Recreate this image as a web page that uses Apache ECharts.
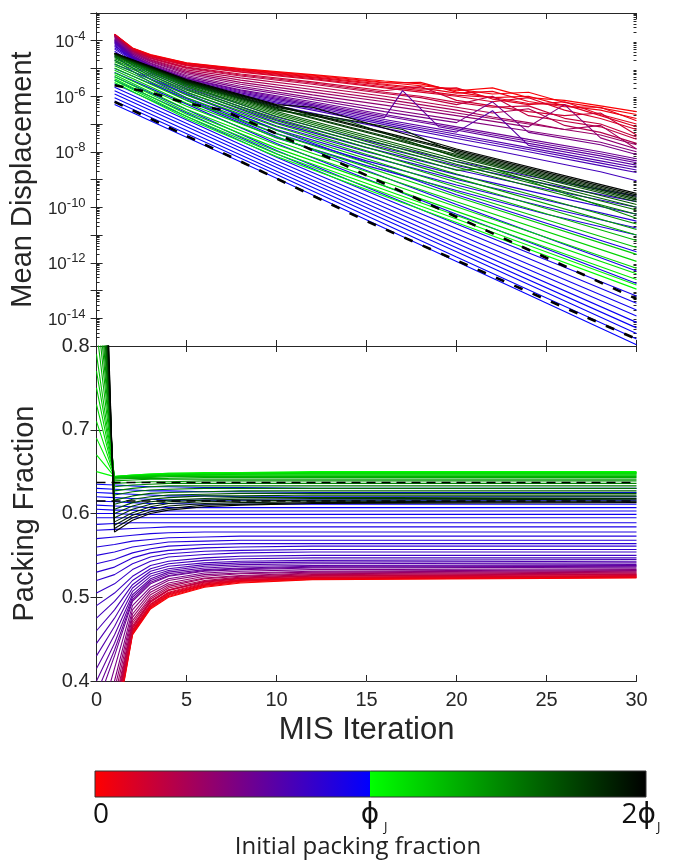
<!DOCTYPE html>
<html><head><meta charset="utf-8">
<script src="https://cdn.jsdelivr.net/npm/echarts@6/dist/echarts.min.js"></script>
<style>html,body{margin:0;padding:0;background:#fff}#c{width:676px;height:865px}</style>
</head><body><div id="c"></div>
<script>
// ---------- data ----------
const phiJ = 0.64;                       // jamming packing fraction (colour scale midpoint)
const xTicks = [0, 5, 10, 15, 20, 25, 30];
const dispTickExps = [-4, -6, -8, -10, -12, -14];
const packTicks = [0.4, 0.5, 0.6, 0.7, 0.8];
const colorbarTicks = ['0', 'ϕ', '2ϕ'];

// initial packing fraction of every run (drives line colour and the packing curve at iteration 0)
const phiInit = [0.01,0.025,0.04,0.055,0.07,0.085,0.10,0.13,0.145,0.16,0.19,0.22,
                 0.25,0.28,0.31,0.34,0.37,0.385,0.40,0.415,0.43,0.445,0.46,0.475,
                 0.49,0.505,0.52,0.53,0.54,0.55,0.56,0.57,
                 0.58,0.587,0.595,0.60,0.605,0.61,0.615,0.62,0.625,0.63,0.635,
                 0.65,0.67,0.69,0.71,0.73,0.75,0.77,0.79,0.82,0.85,0.88,0.91,
                 0.94,0.97,1.00,1.03,1.06,1.09,1.12,1.15,1.18,1.21,1.24,1.27];

// mean displacement vs MIS iteration, one [iteration, value] list per run
const dispCurves = [
 [[1,1.74e-4],[2,5.5e-5],[3,3.16e-5],[5,1.62e-5],[8,1.0e-5],[12,6.0e-6],[16,3.55e-6],[18,2.8e-6],[20,1.58e-6],[22,2.0e-6],[24,8.9e-7],[26,7.1e-7],[28,4.5e-7],[30,2.8e-7]],
 [[1,1.72e-4],[2,5.35e-5],[3,3.08e-5],[5,1.56e-5],[8,9.5e-6],[12,5.7e-6],[16,3.2e-6],[18,2.4e-6],[20,1.8e-6],[22,1.2e-6],[24,1.4e-6],[26,6.0e-7],[28,3.8e-7],[30,2.2e-7]],
 [[1,1.7e-4],[2,5.2e-5],[3,3.0e-5],[5,1.51e-5],[8,9.1e-6],[12,5.4e-6],[16,3.0e-6],[18,3.16e-6],[20,1.41e-6],[22,8.9e-7],[24,1.0e-6],[26,4.5e-7],[28,3.16e-7],[30,1.58e-7]],
 [[1,1.68e-4],[2,5.1e-5],[3,2.9e-5],[5,1.45e-5],[8,8.7e-6],[12,5.0e-6],[16,2.7e-6],[18,2.0e-6],[20,1.3e-6],[22,1.5e-6],[24,6.5e-7],[26,4.2e-7],[28,4.0e-7],[30,1.3e-7]],
 [[1,1.66e-4],[2,5.0e-5],[3,2.8e-5],[5,1.38e-5],[8,8.3e-6],[12,4.7e-6],[16,2.5e-6],[18,1.78e-6],[20,2.0e-6],[22,7.9e-7],[24,5.0e-7],[26,6.3e-7],[28,2.2e-7],[30,1.0e-7]],
 [[1,1.64e-4],[2,4.9e-5],[3,2.7e-5],[5,1.32e-5],[8,7.8e-6],[12,4.3e-6],[16,2.2e-6],[18,1.6e-6],[20,1.1e-6],[22,9.0e-7],[24,5.5e-7],[26,5.0e-7],[28,2.0e-7],[30,8.0e-8]],
 [[1,1.62e-4],[2,4.8e-5],[3,2.6e-5],[5,1.26e-5],[8,7.4e-6],[12,4.0e-6],[16,2.0e-6],[18,1.41e-6],[20,1.0e-6],[22,6.3e-7],[24,8.9e-7],[26,3.16e-7],[28,1.58e-7],[30,6.3e-8]],
 [[1,1.58e-4],[2,4.6e-5],[3,2.45e-5],[5,1.12e-5],[8,6.3e-6],[12,3.3e-6],[16,1.58e-6],[18,2.24e-6],[20,7.1e-7],[22,4.5e-7],[24,2.8e-7],[26,2.0e-7],[28,2.5e-7],[30,4.0e-8]],
 [[1,1.56e-4],[2,4.5e-5],[3,2.38e-5],[5,1.06e-5],[8,5.8e-6],[12,3.0e-6],[16,1.4e-6],[18,1.0e-6],[20,6.0e-7],[22,4.0e-7],[24,4.5e-7],[26,1.6e-7],[28,1.0e-7],[30,3.4e-8]],
 [[1,1.55e-4],[2,4.4e-5],[3,2.3e-5],[5,1.0e-5],[8,5.4e-6],[12,2.7e-6],[16,1.26e-6],[18,8.9e-7],[20,5.0e-7],[22,1.0e-6],[24,2.0e-7],[26,1.26e-7],[28,7.9e-8],[30,2.8e-8]],
 [[1,1.51e-4],[2,4.2e-5],[3,2.1e-5],[5,8.9e-6],[8,4.6e-6],[12,2.2e-6],[16,1.0e-6],[18,6.3e-7],[20,4.0e-7],[22,2.5e-7],[24,3.55e-7],[26,8.9e-8],[28,5.0e-8],[30,2.0e-8]],
 [[1,1.48e-4],[2,4.0e-5],[3,2.0e-5],[5,7.9e-6],[8,3.8e-6],[12,1.74e-6],[16,7.9e-7],[18,5.0e-7],[20,3.16e-7],[22,1.78e-7],[24,1.12e-7],[26,6.3e-8],[28,8.9e-8],[30,1.26e-8]],
 [[1,1.41e-4],[2,3.8e-5],[3,1.86e-5],[5,7.1e-6],[8,3.16e-6],[12,1.41e-6],[16,6.3e-7],[20,2.5e-7],[24,1.0e-7],[28,4.0e-8],[30,1.78e-8]],
 [[1,1.35e-4],[2,3.55e-5],[3,1.74e-5],[5,6.3e-6],[8,2.7e-6],[12,1.12e-6],[16,4.8e-7],[20,2.0e-7],[24,7.9e-8],[26,5.0e-7],[28,3.16e-8],[30,1.26e-8]],
 [[1,1.26e-4],[2,3.3e-5],[3,1.58e-5],[5,5.6e-6],[8,2.3e-6],[12,8.9e-7],[16,3.55e-7],[20,1.41e-7],[24,5.6e-8],[28,2.2e-8],[30,1.0e-8]],
 [[1,1.17e-4],[2,3.16e-5],[3,1.48e-5],[5,5.0e-6],[8,2.0e-6],[12,7.6e-7],[16,2.8e-7],[20,1.12e-7],[22,6.3e-7],[24,5.0e-8],[28,1.78e-8],[30,7.9e-9]],
 [[1,1.1e-4],[2,2.95e-5],[3,1.35e-5],[5,4.5e-6],[8,1.7e-6],[12,6.3e-7],[16,2.2e-7],[20,7.9e-8],[24,2.8e-8],[28,1.0e-8],[30,5.6e-9]],
 [[1,1.05e-4],[2,2.85e-5],[3,1.3e-5],[5,4.25e-6],[8,1.57e-6],[12,5.6e-7],[16,1.95e-7],[20,6.9e-8],[24,2.4e-8],[28,8.5e-9],[30,4.7e-9]],
 [[1,1.0e-4],[2,2.75e-5],[3,1.26e-5],[5,4.0e-6],[8,1.45e-6],[12,5.0e-7],[16,1.7e-7],[17,1.6e-6],[19,8.0e-8],[24,2.0e-8],[28,7.1e-9],[30,4.0e-9]],
 [[1,9.4e-5],[2,2.6e-5],[3,1.19e-5],[5,3.75e-6],[8,1.32e-6],[12,4.5e-7],[16,1.45e-7],[20,5.1e-8],[22,3.0e-7],[24,1.7e-8],[28,5.8e-9],[30,3.3e-9]],
 [[1,8.9e-5],[2,2.5e-5],[3,1.12e-5],[5,3.5e-6],[8,1.2e-6],[12,4.0e-7],[16,1.26e-7],[20,4.3e-8],[24,1.41e-8],[28,4.7e-9],[30,2.7e-9]],
 [[1,8.4e-5],[2,2.35e-5],[3,1.06e-5],[5,3.25e-6],[8,1.1e-6],[12,3.55e-7],[16,1.1e-7],[20,3.6e-8],[24,1.2e-8],[28,3.9e-9],[30,2.2e-9]],
 [[1,7.9e-5],[2,2.2e-5],[3,1.0e-5],[5,3.0e-6],[8,1.0e-6],[12,3.16e-7],[16,9.5e-8],[20,3.0e-8],[24,1.0e-8],[28,3.16e-9],[30,1.78e-9]],
 [[1,7.1e-5],[2,1.9e-5],[3,9.4e-6],[5,2.7e-6],[8,8.4e-7],[12,2.5e-7],[16,7.1e-8],[20,2.1e-8],[24,6.3e-9],[28,1.9e-9],[30,9.0e-10]],
 [[1,6.3e-5],[3,8.9e-6],[5,2.51e-6],[10,1.78e-7],[15,2.51e-8],[20,4.47e-9],[25,1.0e-9],[30,2.51e-10]],
 [[1,5.6e-5],[3,7.9e-6],[5,2.1e-6],[10,1.41e-7],[15,1.9e-8],[20,3.2e-9],[25,6.8e-10],[30,1.6e-10]],
 [[1,5.0e-5],[3,7.1e-6],[5,1.78e-6],[10,1.12e-7],[15,1.41e-8],[20,2.24e-9],[25,4.47e-10],[30,1.0e-10]],
 [[1,4.2e-5],[3,6.0e-6],[5,1.41e-6],[10,8.5e-8],[15,1.0e-8],[20,1.5e-9],[25,2.8e-10],[30,5.6e-11]],
 [[1,3.55e-5],[3,5.0e-6],[5,1.12e-6],[10,6.3e-8],[15,7.1e-9],[20,1.0e-9],[25,1.78e-10],[30,3.16e-11]],
 [[1,2.7e-5],[3,4.0e-6],[5,8.9e-7],[10,4.5e-8],[15,4.7e-9],[20,6.3e-10],[25,1.0e-10],[30,1.8e-11]],
 [[1,2.0e-5],[3,3.16e-6],[5,7.1e-7],[10,3.16e-8],[15,3.16e-9],[20,4.0e-10],[25,5.6e-11],[30,1.0e-11]],
 [[1,1.41e-5],[10,6.0e-8],[20,2.8e-10],[30,2.5e-12]],
 [[1,1.0e-5],[10,3.55e-8],[20,1.26e-10],[30,5.0e-13]],
 [[1,7.1e-6],[10,2.0e-8],[20,5.6e-11],[30,1.78e-13]],
 [[1,5.0e-6],[10,1.12e-8],[20,2.5e-11],[30,6.3e-14]],
 [[1,3.8e-6],[10,8.5e-9],[20,1.7e-11],[30,3.5e-14]],
 [[1,2.82e-6],[10,6.3e-9],[20,1.12e-11],[30,2.0e-14]],
 [[1,2.1e-6],[10,4.7e-9],[20,7.5e-12],[30,1.2e-14]],
 [[1,1.58e-6],[10,3.55e-9],[20,5.0e-12],[30,7.1e-15]],
 [[1,1.2e-6],[10,2.7e-9],[20,3.5e-12],[30,4.5e-15]],
 [[1,8.9e-7],[10,2.0e-9],[20,2.5e-12],[30,2.8e-15]],
 [[1,6.7e-7],[10,1.5e-9],[20,1.6e-12],[30,1.8e-15]],
 [[1,5.0e-7],[10,1.12e-9],[20,1.12e-12],[30,1.12e-15]],
 [[1,3.16e-6],[5,1.58e-7],[10,6.8e-9],[20,2.8e-11],[30,1.12e-13]],
 [[1,3.72e-6],[5,1.86e-7],[10,8.3e-9],[20,3.8e-11],[30,1.58e-13]],
 [[1,4.27e-6],[5,2.24e-7],[10,1.05e-8],[20,5.0e-11],[30,2.5e-13]],
 [[1,5.0e-6],[5,2.75e-7],[10,1.35e-8],[20,7.1e-11],[30,4.0e-13]],
 [[1,5.9e-6],[5,3.39e-7],[10,1.78e-8],[20,1.05e-10],[30,6.3e-13]],
 [[1,7.1e-6],[5,4.37e-7],[10,2.4e-8],[20,1.58e-10],[30,1.12e-12]],
 [[1,8.7e-6],[5,5.6e-7],[10,3.3e-8],[20,2.4e-10],[30,2.0e-12]],
 [[1,1.05e-5],[5,7.1e-7],[10,4.47e-8],[20,3.55e-10],[30,3.55e-12]],
 [[1,1.26e-5],[5,8.9e-7],[10,6.0e-8],[20,5.25e-10],[30,6.3e-12]],
 [[1,1.48e-5],[5,1.12e-6],[10,7.9e-8],[20,7.9e-10],[30,1.0e-11]],
 [[1,1.74e-5],[5,1.38e-6],[10,1.05e-7],[20,1.12e-9],[30,1.58e-11]],
 [[1,2.0e-5],[5,1.66e-6],[10,1.32e-7],[20,1.58e-9],[30,2.5e-11]],
 [[1,2.24e-5],[5,1.91e-6],[10,1.58e-7],[20,2.14e-9],[22,2.5e-9],[30,4.0e-11]],
 [[1,2.51e-5],[5,2.19e-6],[10,1.91e-7],[20,2.82e-9],[30,5.6e-11]],
 [[1,2.69e-5],[5,2.4e-6],[10,2.19e-7],[20,3.55e-9],[30,7.9e-11]],
 [[1,2.88e-5],[5,2.63e-6],[10,2.51e-7],[20,4.37e-9],[30,1.0e-10]],
 [[1,3.02e-5],[5,2.82e-6],[10,2.82e-7],[20,5.25e-9],[30,1.26e-10]],
 [[1,3.16e-5],[5,3.02e-6],[10,3.16e-7],[14,1.26e-7],[20,6.3e-9],[30,1.58e-10]],
 [[1,3.24e-5],[5,3.16e-6],[10,3.47e-7],[20,7.1e-9],[30,1.78e-10]],
 [[1,3.31e-5],[5,3.31e-6],[10,3.72e-7],[20,7.9e-9],[30,2.0e-10]],
 [[1,3.39e-5],[5,3.47e-6],[10,3.98e-7],[17,6.3e-8],[20,8.9e-9],[30,2.24e-10]],
 [[1,3.47e-5],[5,3.63e-6],[10,4.37e-7],[20,1.0e-8],[30,2.5e-10]],
 [[1,3.55e-5],[5,3.8e-6],[10,4.7e-7],[20,1.12e-8],[30,2.8e-10]],
 [[1,3.6e-5],[5,4.0e-6],[10,5.0e-7],[12,4.0e-7],[20,1.26e-8],[30,3.16e-10]]
];

// packing fraction vs MIS iteration, sampled at packX, one row per run
const packX = [0, 1, 2, 3, 4, 6, 8, 12, 30];
const packCurves = [
 [.01,.335,.455,.486,.500,.512,.517,.521,.523],
 [.025,.337,.456,.487,.501,.513,.518,.5215,.5235],
 [.04,.34,.457,.488,.502,.514,.519,.522,.524],
 [.055,.342,.458,.489,.503,.5145,.5195,.5225,.5245],
 [.07,.345,.459,.49,.504,.515,.52,.523,.525],
 [.085,.347,.46,.491,.505,.516,.5205,.5235,.5255],
 [.10,.35,.461,.492,.506,.517,.521,.524,.526],
 [.13,.355,.463,.494,.508,.518,.522,.525,.527],
 [.145,.357,.464,.495,.5085,.5185,.5225,.5255,.5275],
 [.16,.36,.466,.496,.509,.519,.523,.526,.528],
 [.19,.365,.469,.498,.511,.52,.524,.527,.529],
 [.22,.37,.472,.5,.513,.522,.525,.528,.53],
 [.25,.38,.476,.503,.515,.523,.526,.529,.531],
 [.28,.39,.48,.506,.517,.525,.528,.53,.532],
 [.31,.40,.485,.509,.52,.527,.529,.531,.533],
 [.34,.415,.49,.512,.522,.529,.531,.533,.534],
 [.37,.43,.495,.516,.525,.531,.533,.535,.536],
 [.385,.437,.497,.518,.526,.532,.534,.536,.537],
 [.40,.445,.50,.52,.528,.533,.535,.537,.538],
 [.415,.455,.503,.522,.53,.535,.537,.538,.539],
 [.43,.465,.507,.525,.532,.537,.539,.54,.541],
 [.445,.475,.511,.528,.534,.539,.541,.542,.543],
 [.46,.485,.515,.531,.537,.541,.543,.544,.545],
 [.475,.495,.52,.534,.54,.544,.546,.547,.547],
 [.49,.505,.525,.538,.543,.547,.549,.55,.55],
 [.505,.516,.533,.543,.548,.551,.553,.554,.554],
 [.52,.527,.54,.548,.552,.555,.556,.557,.557],
 [.53,.536,.547,.553,.556,.559,.56,.561,.561],
 [.54,.545,.553,.558,.561,.563,.564,.564,.564],
 [.55,.554,.56,.563,.566,.567,.568,.568,.568],
 [.56,.563,.567,.569,.571,.572,.573,.573,.573],
 [.57,.572,.574,.576,.577,.578,.578,.578,.578],
 [.58,.581,.582,.583,.584,.584,.584,.584,.584],
 [.587,.588,.589,.589,.589,.589,.589,.589,.589],
 [.595,.595,.595,.595,.595,.595,.595,.595,.595],
 [.60,.60,.599,.599,.599,.599,.599,.599,.599],
 [.605,.604,.604,.603,.603,.603,.603,.603,.603],
 [.61,.609,.608,.607,.607,.607,.607,.607,.607],
 [.615,.614,.613,.612,.612,.611,.611,.611,.611],
 [.62,.619,.618,.617,.616,.616,.616,.616,.616],
 [.625,.624,.623,.622,.621,.621,.62,.62,.62],
 [.63,.629,.628,.627,.627,.626,.626,.625,.625],
 [.635,.634,.633,.632,.632,.631,.631,.63,.63],
 [.65,.644,.646,.647,.648,.649,.649,.65,.65],
 [.67,.644,.646,.647,.648,.648,.649,.649,.649],
 [.69,.644,.645,.646,.647,.648,.648,.649,.649],
 [.71,.644,.645,.646,.647,.647,.648,.648,.648],
 [.73,.644,.645,.646,.646,.647,.647,.648,.648],
 [.75,.643,.644,.645,.646,.646,.647,.647,.647],
 [.77,.643,.644,.645,.645,.646,.646,.646,.646],
 [.79,.643,.644,.644,.645,.645,.645,.645,.645],
 [.82,.642,.643,.643,.644,.644,.644,.644,.644],
 [.85,.641,.642,.642,.642,.643,.643,.643,.643],
 [.88,.639,.64,.641,.641,.641,.641,.641,.641],
 [.91,.636,.637,.638,.638,.639,.639,.639,.639],
 [.94,.632,.634,.635,.636,.636,.636,.636,.636],
 [.97,.627,.63,.632,.633,.633,.633,.633,.633],
 [1.00,.622,.626,.628,.629,.63,.63,.63,.63],
 [1.03,.616,.621,.624,.625,.626,.627,.627,.627],
 [1.06,.611,.617,.62,.622,.623,.624,.624,.624],
 [1.09,.605,.613,.617,.619,.621,.621,.622,.622],
 [1.12,.60,.609,.614,.616,.618,.619,.619,.62],
 [1.15,.595,.605,.611,.614,.616,.617,.618,.618],
 [1.18,.59,.601,.608,.612,.614,.615,.616,.617],
 [1.21,.586,.598,.605,.609,.612,.613,.614,.615],
 [1.24,.582,.595,.602,.606,.61,.611,.613,.614],
 [1.27,.578,.592,.60,.604,.608,.61,.612,.613]
];

// dashed reference runs
const dashDispUpper = [[1,2.5e-6],[3,1.35e-6],[5,5.6e-7],[7,3.16e-7],[10,4.47e-8],[20,4.47e-11],[30,5.0e-14]];
const dashDispLower = [[1,6.3e-7],[15,3.16e-11],[30,1.78e-15]];
const dashPackLevels = [0.637, 0.615];

// ---------- chart ----------
const FONT = '"Liberation Sans", Arial, Helvetica, sans-serif';
const AX = '#262626';

function runColor(p) {
  const t = p / phiJ;
  if (t < 1) return `rgb(${Math.round(255 * (1 - t))},0,${Math.round(255 * t)})`;
  const u = Math.min(1, t - 1);
  return `rgb(0,${Math.round(255 * (1 - u))},0)`;
}

const G0 = {left: 96.5, top: 13, width: 540, height: 333};
const G1 = {left: 96.5, top: 346, width: 540, height: 335};

const tickStyle = {show: true, inside: true, length: 6, lineStyle: {color: AX, width: 1}};
const lineStyle = {show: true, lineStyle: {color: AX, width: 1}};

const xCommon = {type: 'value', min: 0, max: 30, interval: 5, splitLine: {show: false}, axisLine: lineStyle, axisTick: tickStyle};

const minorVals = [];
for (let n = -15; n < -3; n++) for (let k = 2; k <= 9; k++) minorVals.push(n + Math.log10(k));

const series = [];
phiInit.forEach((p, i) => {
  const c = runColor(p);
  series.push({type: 'line', xAxisIndex: 0, yAxisIndex: 0, data: dispCurves[i], symbol: 'none', silent: true,
    lineStyle: {color: c, width: 1.1}, clip: true, z: 2});
  series.push({type: 'line', xAxisIndex: 2, yAxisIndex: 4, data: packX.map((x, j) => [x, packCurves[i][j]]), symbol: 'none', silent: true,
    lineStyle: {color: c, width: 1.1}, clip: true, z: 2});
});
[dashDispUpper, dashDispLower].forEach(d => series.push({type: 'line', xAxisIndex: 0, yAxisIndex: 0, data: d, symbol: 'none', silent: true,
  lineStyle: {color: '#000', width: 2.6, type: [9, 11]}, clip: true, z: 3}));
dashPackLevels.forEach(v => series.push({type: 'line', xAxisIndex: 2, yAxisIndex: 4, data: [[0, v], [30, v]], symbol: 'none', silent: true,
  lineStyle: {color: '#000', width: 1.6, type: [9, 6]}, clip: true, z: 3}));

const cbStops = [
  {offset: 0, color: runColor(0)}, {offset: 0.5, color: runColor(phiJ * 0.99999)},
  {offset: 0.5, color: runColor(phiJ * 1.00001)}, {offset: 1, color: runColor(2 * phiJ)}
];

const option = {
  animation: false,
  backgroundColor: '#fff',
  grid: [G0, G1],
  xAxis: [
    Object.assign({gridIndex: 0, position: 'bottom', axisLabel: {show: false}}, xCommon),
    Object.assign({gridIndex: 0, position: 'top', axisLabel: {show: false}}, xCommon),
    Object.assign({gridIndex: 1, position: 'bottom', name: 'MIS Iteration', nameLocation: 'middle', nameGap: 34,
      nameTextStyle: {fontFamily: FONT, fontSize: 31, color: AX},
      axisLabel: {show: true, margin: 9, fontFamily: FONT, fontSize: 20, color: AX,
        customValues: xTicks, formatter: v => String(v)}}, xCommon),
    Object.assign({gridIndex: 1, position: 'top', axisLabel: {show: false}}, xCommon)
  ],
  yAxis: [
    {type: 'log', logBase: 10, gridIndex: 0, position: 'left', min: 1e-15, max: 1e-3, interval: 1,
      name: 'Mean Displacement', nameLocation: 'middle', nameGap: 57,
      nameTextStyle: {fontFamily: FONT, fontSize: 29, color: AX},
      splitLine: {show: false}, axisLine: lineStyle, axisTick: tickStyle,
      axisLabel: {margin: 11, formatter: v => {
          const e = Math.round(Math.log10(v));
          return dispTickExps.includes(e) ? '{b|10}{s|' + e + '}' : '';
        },
        rich: {b: {fontFamily: FONT, fontSize: 17, color: AX, lineHeight: 21, verticalAlign: 'bottom'},
               s: {fontFamily: FONT, fontSize: 13, color: AX, lineHeight: 21, verticalAlign: 'top'}}}},
    {type: 'log', logBase: 10, gridIndex: 0, position: 'right', min: 1e-15, max: 1e-3, interval: 1,
      splitLine: {show: false}, axisLine: lineStyle, axisTick: tickStyle, axisLabel: {show: false}},
    {type: 'value', gridIndex: 0, position: 'left', min: -15, max: -3, splitLine: {show: false}, axisLine: {show: false},
      axisLabel: {show: false}, axisTick: {show: true, inside: true, length: 3, customValues: minorVals, lineStyle: {color: AX}}},
    {type: 'value', gridIndex: 0, position: 'right', min: -15, max: -3, splitLine: {show: false}, axisLine: {show: false},
      axisLabel: {show: false}, axisTick: {show: true, inside: true, length: 3, customValues: minorVals, lineStyle: {color: AX}}},
    {type: 'value', gridIndex: 1, position: 'left', min: 0.4, max: 0.8, interval: 0.1,
      name: 'Packing Fraction', nameLocation: 'middle', nameGap: 57,
      nameTextStyle: {fontFamily: FONT, fontSize: 29, color: AX},
      splitLine: {show: false}, axisLine: lineStyle, axisTick: tickStyle,
      axisLabel: {margin: 7, fontFamily: FONT, fontSize: 20, color: AX, customValues: packTicks, formatter: v => v.toFixed(1)}},
    {type: 'value', gridIndex: 1, position: 'right', min: 0.4, max: 0.8, interval: 0.1,
      splitLine: {show: false}, axisLine: lineStyle, axisTick: tickStyle, axisLabel: {show: false}}
  ],
  series: series,
  graphic: [
    {type: 'rect', shape: {x: 95, y: 771, width: 551, height: 26}, silent: true,
      style: {fill: new echarts.graphic.LinearGradient(0, 0, 1, 0, cbStops), stroke: '#333', lineWidth: 1}},
    {type: 'text', x: 101, y: 815, silent: true,
      style: {text: colorbarTicks[0], font: '28px "Open Sans", sans-serif', fill: '#111', align: 'center', verticalAlign: 'middle'}},
    {type: 'text', x: 370, y: 815, silent: true,
      style: {text: colorbarTicks[1], font: '28px "Open Sans", "DejaVu Sans", sans-serif', fill: '#111', align: 'center', verticalAlign: 'middle'}},
    {type: 'text', x: 384, y: 827, silent: true,
      style: {text: 'J', font: '13px "Open Sans", sans-serif', fill: '#111', align: 'left', verticalAlign: 'middle'}},
    {type: 'text', x: 656, y: 815, silent: true,
      style: {text: colorbarTicks[2], font: '28px "Open Sans", "DejaVu Sans", sans-serif', fill: '#111', align: 'right', verticalAlign: 'middle'}},
    {type: 'text', x: 657, y: 827, silent: true,
      style: {text: 'J', font: '13px "Open Sans", sans-serif', fill: '#111', align: 'left', verticalAlign: 'middle'}},
    {type: 'text', x: 358, y: 847, silent: true,
      style: {text: 'Initial packing fraction', font: '24px "Open Sans", sans-serif', fill: '#222', align: 'center', verticalAlign: 'middle'}}
  ]
};

const chart = echarts.init(document.getElementById('c'), null, {renderer: 'canvas', width: 676, height: 865});
chart.setOption(option);
</script>
</body></html>
